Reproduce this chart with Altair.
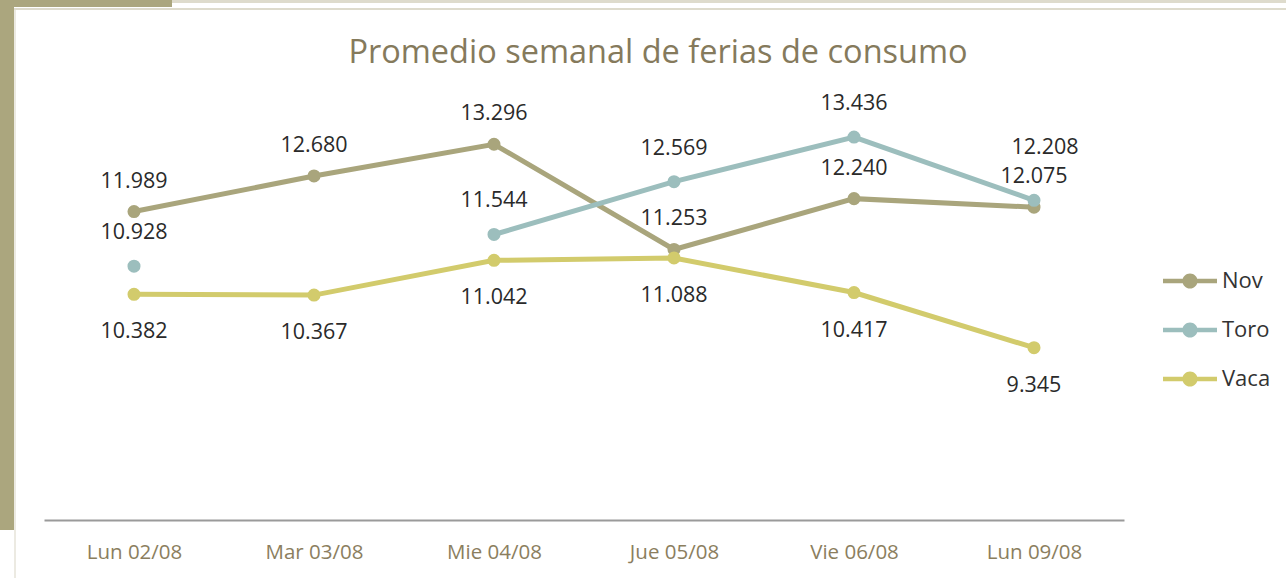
import altair as alt
import pandas as pd

dates = ["Lun 02/08", "Mar 03/08", "Mie 04/08", "Jue 05/08", "Vie 06/08", "Lun 09/08"]
nov = [11.989, 12.680, 13.296, 11.253, 12.240, 12.075]
toro = [10.928, None, 11.544, 12.569, 13.436, 12.208]
vaca = [10.382, 10.367, 11.042, 11.088, 10.417, 9.345]
series = ["Nov", "Toro", "Vaca"]
colors = ["#A9A57C", "#9CBEBD", "#D2CB6C"]

rows = []
for name, vals in zip(series, [nov, toro, vaca]):
    for d, v in zip(dates, vals):
        rows.append({"fecha": d, "serie": name, "valor": v})
df = pd.DataFrame(rows)

W, H = 1080, 412
OX, OY = 44, 108  # plot origin in page

x_enc = alt.X("fecha:N", sort=dates, scale=alt.Scale(domain=dates),
              axis=alt.Axis(title=None, labelAngle=0, ticks=False, grid=False,
                            domainColor="#9A9A9A", domainWidth=2,
                            labelColor="#8B7E5E", labelFontSize=20.5,
                            labelFont="Open Sans", labelPadding=22))
y_enc = alt.Y("valor:Q", scale=alt.Scale(domain=[6, 14], nice=False, zero=False), axis=None)
sym_path = ("M -1 -0.085 L 1 -0.085 L 1 0.085 L -1 0.085 Z "
            "M 0.28 0 A 0.28 0.28 0 1 1 -0.28 0 A 0.28 0.28 0 1 1 0.28 0 Z")
color_enc = alt.Color("serie:N", scale=alt.Scale(domain=series, range=colors),
                      legend=alt.Legend(title=None, orient="none", legendX=1119, legendY=146,
                                        symbolType=sym_path, symbolSize=2916,
                                        symbolStrokeWidth=0, labelFontSize=22,
                                        labelFont="Open Sans", labelColor="#333333",
                                        labelOffset=5, rowPadding=11, padding=0))

base = alt.Chart(df).encode(x=x_enc, y=y_enc)

lines = base.mark_line(strokeWidth=5, invalid="break-paths-show-domains").encode(
    color=color_enc, detail="serie:N")
points = base.mark_point(filled=True, size=170, opacity=1).encode(
    color=alt.Color("serie:N", scale=alt.Scale(domain=series, range=colors), legend=None)
).transform_filter("isValid(datum.valor)")

lbl_style = dict(fontSize=21.5, font="Open Sans", color="#2A2A2A")
txt = alt.Text("valor:Q", format=".3f")
lab_nov = base.mark_text(dy=-30, **lbl_style).encode(text=txt).transform_filter(
    "datum.serie == 'Nov'")
lab_toro = base.mark_text(dy=-33, **lbl_style).encode(text=txt).transform_filter(
    "datum.serie == 'Toro' && isValid(datum.valor) && datum.fecha != 'Lun 09/08'")
lab_toro_last = base.mark_text(dy=-52, dx=11, **lbl_style).encode(text=txt).transform_filter(
    "datum.serie == 'Toro' && datum.fecha == 'Lun 09/08'")
lab_vaca = base.mark_text(dy=38, **lbl_style).encode(text=txt).transform_filter(
    "datum.serie == 'Vaca'")

one = alt.Data(values=[{}])
def rect(x1, x2, y1, y2, col):
    return alt.Chart(one).mark_rect(color=col).encode(
        x=alt.value(x1 - OX), x2=alt.value(x2 - OX), y=alt.value(y1 - OY), y2=alt.value(y2 - OY))

olive = "#ABA67E"
light = "#DEDBCC"
deco = [
    rect(0, 1286, 0, 3, light),
    rect(14, 1286, 8, 10, light),
    rect(14, 16, 10, 578, "#ECEAE2"),
    rect(0, 14, 0, 530, olive),
    rect(0, 172, 0, 7, olive),
]

title = alt.Chart(one).mark_text(text="Promedio semanal de ferias de consumo", fontSize=32.5,
                                 font="Open Sans", color="#857A5C").encode(
    x=alt.value(658 - OX), y=alt.value(53 - OY))

chart = alt.layer(*deco, title, lines, points, lab_nov, lab_toro, lab_toro_last, lab_vaca).properties(
    width=W, height=H, padding=0, background="white"
).configure_view(stroke=None, strokeWidth=0)

chart.save("out.html", embed_options={"renderer": "svg", "actions": False})
